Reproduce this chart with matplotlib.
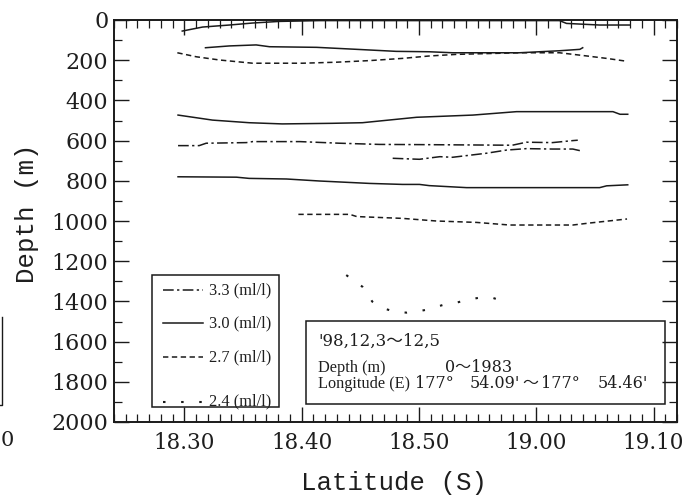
import matplotlib
matplotlib.use("Agg")
import matplotlib.pyplot as plt
from matplotlib.lines import Line2D
from matplotlib.patches import Rectangle
from matplotlib.ticker import FixedLocator, MultipleLocator

# ---------------- data (latitude in decimal degrees S, depth in m) ----------------
# 3.0 ml/l contours (solid)
lat_30a = [18.497, 18.526, 18.564, 18.597, 18.635, 18.692, 18.810, 19.033, 19.043, 19.090, 19.133]
dep_30a = [55, 35, 25, 15, 7, 3, 3, 3, 17, 25, 25]
lat_30b = [18.530, 18.564, 18.602, 18.621, 18.688, 18.745, 18.801, 18.848, 18.881, 18.976, 19.033, 19.062, 19.066]
dep_30b = [138, 129, 124, 133, 136, 146, 156, 158, 163, 163, 153, 146, 138]
lat_30c = [18.491, 18.540, 18.592, 18.639, 18.710, 18.753, 18.830, 18.910, 18.972, 19.109, 19.119, 19.130]
dep_30c = [473, 498, 511, 517, 514, 511, 484, 473, 456, 456, 469, 469]
lat_30d = [18.491, 18.574, 18.592, 18.645, 18.692, 18.763, 18.810, 18.834, 18.848, 18.901, 19.090, 19.100, 19.130]
dep_30d = [780, 782, 788, 791, 801, 813, 818, 818, 824, 834, 834, 825, 820]
# 2.7 ml/l contours (dashed)
lat_27a = [18.490, 18.517, 18.550, 18.597, 18.668, 18.716, 18.763, 18.810, 18.848, 18.887, 18.976, 19.033, 19.072, 19.100, 19.126]
dep_27a = [163, 183, 199, 215, 215, 210, 202, 191, 179, 171, 163, 163, 179, 191, 204]
lat_27b = [18.662, 18.735, 18.745, 18.810, 18.858, 18.915, 18.962, 19.052, 19.076, 19.129]
dep_27b = [967, 967, 978, 987, 1000, 1007, 1020, 1020, 1010, 990]
# 3.3 ml/l contours (dash-dot)
lat_33a = [18.491, 18.521, 18.531, 18.588, 18.597, 18.664, 18.720, 18.777, 18.834, 18.966, 18.986, 19.023, 19.052, 19.059]
dep_33a = [625, 625, 613, 610, 605, 605, 613, 619, 620, 623, 608, 610, 600, 598]
lat_33b = [18.796, 18.834, 18.863, 18.881, 18.929, 18.958, 18.986, 19.023, 19.052, 19.062]
dep_33b = [688, 693, 680, 683, 663, 647, 640, 642, 642, 650]
# 2.4 ml/l contour (dotted)
lat_24a = [18.730, 18.753, 18.767, 18.782, 18.799, 18.816, 18.834, 18.848, 18.867, 18.887, 18.901, 18.920, 18.937, 18.952]
dep_24a = [1269, 1327, 1401, 1434, 1451, 1456, 1448, 1439, 1418, 1406, 1393, 1381, 1381, 1398]

legend_labels = ["3.3 (ml/l)", "3.0 (ml/l)", "2.7 (ml/l)", "2.4 (ml/l)"]
x_tick_labels = ["18.30", "18.40", "18.50", "19.00", "19.10"]   # degrees.minutes
y_ticks = list(range(0, 2001, 200))

# info box text
info_line1 = "'98,12,3〜12,5"
info_line2 = ["Depth (m)", "0〜1983"]
info_line3 = ["Longitude (E)", "177°", "54.09'", "〜", "177°", "54.46'"]

# ---------------- styles ----------------
INK = "#1a1a1a"
TXT = "#1e1e1e"
LW = 1.1
ST_33 = (0, (7, 2.2, 1.5, 2.2))
ST_30 = "-"
ST_27 = (0, (3.5, 2.3))
ST_24 = (0, (1.2, 7.5))

W, H = 689, 500
fig = plt.figure(figsize=(W / 100, H / 100), dpi=100)
fig.patch.set_facecolor("white")

def fx(px):
    return px / W

def fy(py):
    return 1 - py / H

ax = fig.add_axes([fx(114), fy(422), fx(677) - fx(114), fy(20) - fy(422)])

for la, de in [(lat_30a, dep_30a), (lat_30b, dep_30b), (lat_30c, dep_30c), (lat_30d, dep_30d)]:
    ax.plot(la, de, color=INK, lw=LW, linestyle=ST_30)
for la, de in [(lat_27a, dep_27a), (lat_27b, dep_27b)]:
    ax.plot(la, de, color=INK, lw=LW, linestyle=ST_27)
for la, de in [(lat_33a, dep_33a), (lat_33b, dep_33b)]:
    ax.plot(la, de, color=INK, lw=LW, linestyle=ST_33)
ax.plot(lat_24a, dep_24a, color=INK, lw=1.5, linestyle=ST_24)

ax.set_xlim(18.4, 19.2)
ax.set_ylim(2000, 0)

def dm_to_deg(s):
    d, m = s.split(".")
    return int(d) + int(m) / 60.0

ax.xaxis.set_major_locator(FixedLocator([dm_to_deg(s) for s in x_tick_labels]))
ax.set_xticklabels(x_tick_labels)
ax.xaxis.set_minor_locator(MultipleLocator(1 / 60))
ax.set_yticks(y_ticks)
ax.set_yticklabels([str(v) for v in y_ticks])
ax.yaxis.set_minor_locator(MultipleLocator(100))

ax.tick_params(which="both", direction="in", top=True, right=True, color=INK)
ax.tick_params(which="major", length=11, width=1.0)
ax.tick_params(which="minor", length=5.5, width=0.9)
ax.tick_params(axis="y", which="major", pad=4)
ax.tick_params(axis="x", which="major", pad=7)
for lab in ax.get_yticklabels():
    lab.set_fontfamily("DejaVu Serif")
    lab.set_fontsize(16)
    lab.set_color(TXT)
for lab in ax.get_xticklabels():
    lab.set_fontfamily("DejaVu Serif")
    lab.set_fontsize(15.5)
    lab.set_color(TXT)
for sp in ax.spines.values():
    sp.set_linewidth(1.4)
    sp.set_color(INK)

# axis titles (typewriter-like serif)
fig.text(fx(27), fy(213), "Depth (m)", rotation=90, ha="center", va="center",
         family="Liberation Mono", fontsize=18.5, color=TXT)
fig.text(fx(394), fy(483), "Latitude (S)", ha="center", va="center",
         family="Liberation Mono", fontsize=18.5, color=TXT)

# legend box
fig.add_artist(Rectangle((fx(152), fy(407)), fx(279) - fx(152), fy(275) - fy(407),
                         transform=fig.transFigure, fill=False, edgecolor=INK, lw=1.1))
leg_rows = [290, 323, 357, 401.5]
leg_styles = [(ST_33, LW), (ST_30, LW), (ST_27, LW), (ST_24, 1.5)]
for row, (st, lw), lab in zip(leg_rows, leg_styles, legend_labels):
    fig.add_artist(Line2D([fx(163), fx(203)], [fy(row), fy(row)], transform=fig.transFigure,
                          color=INK, lw=lw, linestyle=st))
    fig.text(fx(209), fy(row), lab, ha="left", va="center", family="Liberation Serif",
             fontsize=11.8, color=TXT)

# info box
fig.add_artist(Rectangle((fx(306), fy(404)), fx(665) - fx(306), fy(321) - fy(404),
                         transform=fig.transFigure, fill=False, edgecolor=INK, lw=1.1))
word_fam = ["Liberation Serif", "Noto Sans CJK JP"]
num_fam = ["DejaVu Serif", "Noto Sans CJK JP"]
fig.text(fx(318), fy(341), info_line1, ha="left", va="center", family=num_fam,
         fontsize=12, color=TXT)
fig.text(fx(318), fy(367.5), info_line2[0], ha="left", va="center", family=word_fam,
         fontsize=11.7, color=TXT)
fig.text(fx(445), fy(367.5), info_line2[1], ha="left", va="center", family=num_fam,
         fontsize=11.5, color=TXT)
fig.text(fx(318), fy(383.5), info_line3[0], ha="left", va="center", family=word_fam,
         fontsize=11.7, color=TXT)
for s, xp in zip(info_line3[1:], [415, 470, 522, 541, 598]):
    fig.text(fx(xp), fy(383.5), s, ha="left", va="center", family=num_fam,
             fontsize=11.5, color=TXT)

# fragment of neighbouring figure at left edge
fig.add_artist(Line2D([fx(1.5), fx(1.5), fx(0)], [fy(317), fy(405), fy(405)],
                      transform=fig.transFigure, color=INK, lw=1.0))
fig.text(fx(0.5), fy(440), "0", ha="left", va="center", family="DejaVu Serif",
         fontsize=15, color=TXT)

fig.savefig("out.png", dpi=100, facecolor="white")
